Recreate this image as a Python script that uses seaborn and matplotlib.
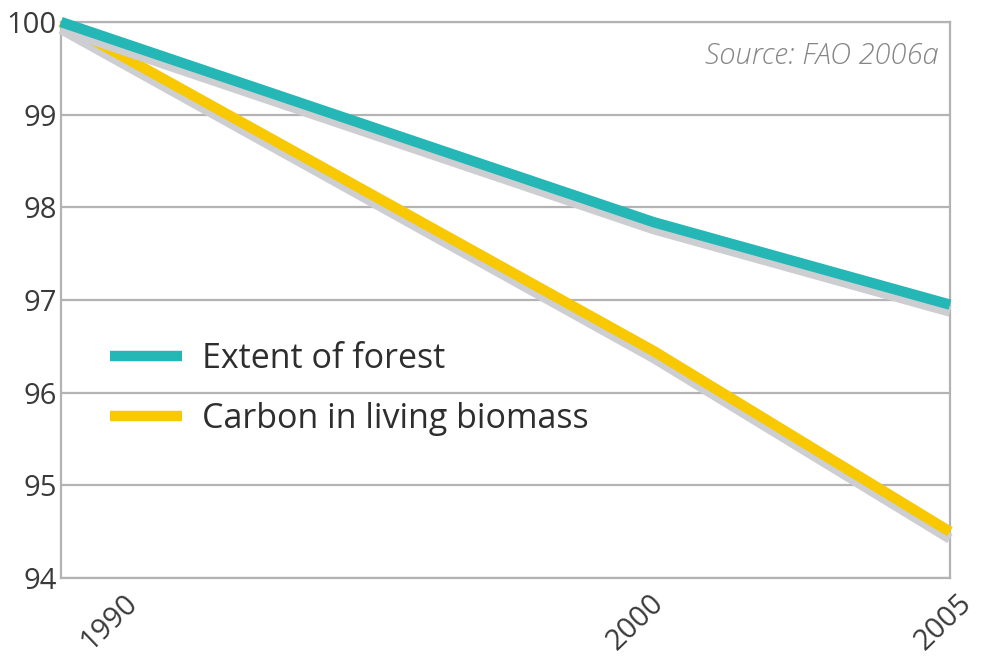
import matplotlib
matplotlib.use("Agg")
import matplotlib.pyplot as plt
import matplotlib.patheffects as pe
import matplotlib.transforms as mtransforms
from matplotlib.lines import Line2D
import seaborn as sns
import pandas as pd

years = [1990, 2000, 2005]
extent_of_forest = [100.0, 97.84, 96.95]
carbon_biomass = [100.0, 96.45, 94.5]
series_names = ["Extent of forest", "Carbon in living biomass"]
y_ticks = [94, 95, 96, 97, 98, 99, 100]
x_ticks = [1990, 2000, 2005]
source_text = "Source: FAO 2006a"

colors = {"Extent of forest": "#25b6b6", "Carbon in living biomass": "#f8c800"}

df = pd.DataFrame({
    "year": years * 2,
    "value": extent_of_forest + carbon_biomass,
    "series": [series_names[0]] * 3 + [series_names[1]] * 3,
})

sns.set_theme(style="white")
plt.rcParams["font.family"] = ["Open Sans", "DejaVu Sans"]

fig = plt.figure(figsize=(9.84, 6.57), dpi=100)
ax = fig.add_axes([0.062, 0.1202, 0.9034, 0.8463])

sns.lineplot(data=df, x="year", y="value", hue="series", palette=colors,
             hue_order=series_names[::-1], linewidth=7.5, legend=False, ax=ax,
             clip_on=False)

for ln in ax.lines:
    ln.set_solid_capstyle("butt")
    ln.set_path_effects([
        pe.SimpleLineShadow(offset=(0, -5), shadow_color="#cdced2", alpha=1.0, rho=1.0),
        pe.Normal(),
    ])
    ln.set_zorder(3)

ax.set_xlim(1990, 2005)
ax.set_ylim(94, 100)
ax.set_yticks(y_ticks)
ax.set_xticks(x_ticks)
ax.set_yticklabels([str(t) for t in y_ticks], fontsize=21, color="#3a3a3a")
ax.set_xticklabels([str(t) for t in x_ticks], fontsize=21, color="#3a3a3a",
                   rotation=44, ha="center", va="top")
ax.tick_params(axis="both", length=0, pad=3)
ax.tick_params(axis="x", pad=8)

# shift labels like the reference
lbls = ax.get_xticklabels()
offsets = [48, -18, -6]
for lb, dx in zip(lbls, offsets):
    lb.set_transform(lb.get_transform() + mtransforms.ScaledTranslation(dx / 100, 0, fig.dpi_scale_trans))

ax.set_xlabel("")
ax.set_ylabel("")
ax.grid(axis="y", color="#b3b3b3", linewidth=1.6)
ax.grid(axis="x", visible=False)
ax.set_axisbelow(True)
for s in ["left", "bottom", "right", "top"]:
    ax.spines[s].set_visible(True)
    ax.spines[s].set_color("#b3b3b3")
    ax.spines[s].set_linewidth(1.6)

handles = [Line2D([], [], color=colors[n], linewidth=7.5, solid_capstyle="butt") for n in series_names]
leg = ax.legend(handles, series_names, loc="upper left", bbox_to_anchor=(0.021, 0.48),
                frameon=False, fontsize=24.5, handlelength=2.1, handletextpad=0.59,
                labelspacing=0.76)
for t in leg.get_texts():
    t.set_color("#2e2e2e")

ax.text(0.987, 0.965, source_text, transform=ax.transAxes, ha="right", va="top",
        fontsize=21, style="italic", color="#858585", family=["Open Sans", "DejaVu Sans"],
        fontweight="light")

fig.savefig("out.png", dpi=100)
